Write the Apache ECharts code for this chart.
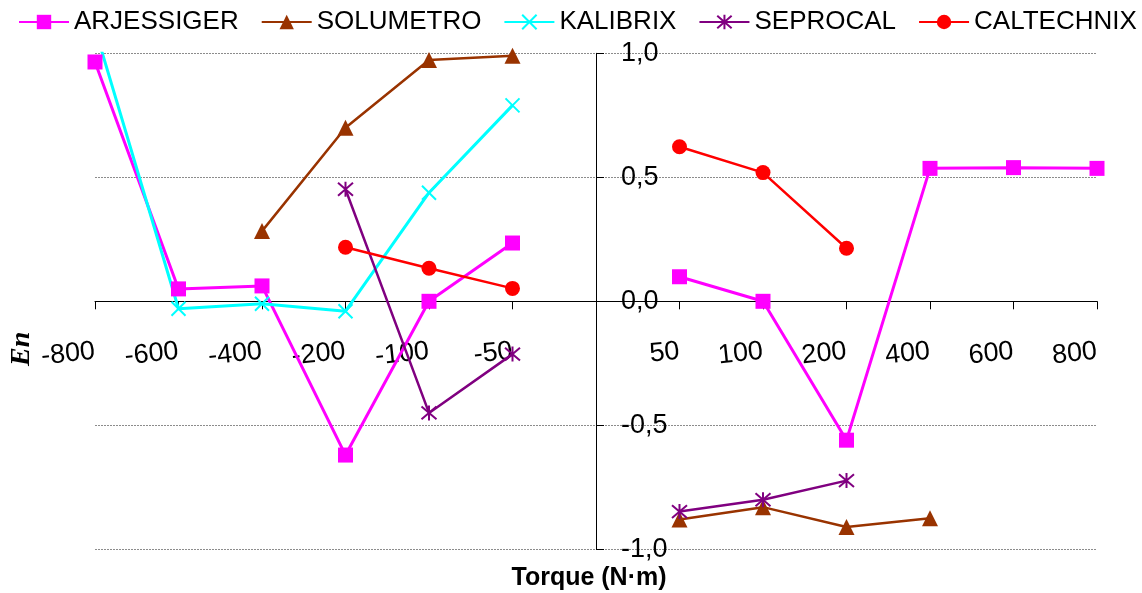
<!DOCTYPE html>
<html>
<head>
<meta charset="utf-8">
<script src="https://cdn.jsdelivr.net/npm/echarts@6/dist/echarts.min.js"></script>
<style>
html,body{margin:0;padding:0;background:#fff;}
#chart{width:1142px;height:593px;}
</style>
</head>
<body>
<div id="chart"></div>
<script>
// Categories (torque, N·m); the empty slot is where the En axis crosses
var categories = ['-800','-600','-400','-200','-100','-50','','50','100','200','400','600','800'];
var yTicks = [-1.0, -0.5, 0.0, 0.5, 1.0];

var arjessiger = [0.965, 0.05, 0.062, -0.62, 0.0, 0.235, null, 0.099, 0.0, -0.56, 0.536, 0.539, 0.536];
var solumetro  = [null, null, 0.283, 0.70, 0.973, 0.99, null, -0.88, -0.83, -0.91, -0.875, null, null];
var kalibrix   = [1.10, -0.03, -0.01, -0.04, 0.438, 0.79, null, null, null, null, null, null, null];
var seprocal   = [null, null, null, 0.452, -0.45, -0.213, null, -0.848, -0.80, -0.723, null, null, null];
var caltechnix = [null, null, null, 0.218, 0.133, 0.052, null, 0.623, 0.519, 0.214, null, null, null];

var FONT = '"Liberation Sans", Arial, sans-serif';
var chart = echarts.init(document.getElementById('chart'), null, {renderer: 'canvas'});

var GRID_TOP = 53.3, GRID_BOTTOM = 43.7, PLOT_H = 593 - GRID_TOP - GRID_BOTTOM;

function series(name, data, color, symbol, size, width, strokeSymbol) {
  return {
    name: name, type: 'line', data: data, symbol: symbol, symbolSize: size,
    showAllSymbol: true, connectNulls: false, clip: true, animation: false,
    lineStyle: {color: color, width: width},
    itemStyle: strokeSymbol ? {color: 'none', borderColor: color, borderWidth: 2} : {color: color},
    emphasis: {disabled: true}
  };
}

var option = {
  animation: false,
  backgroundColor: '#fff',
  textStyle: {fontFamily: FONT},
  legend: {
    top: 9, left: 18, width: 1124, padding: 0, itemGap: 22, itemWidth: 50, itemHeight: 18,
    textStyle: {fontFamily: FONT, fontSize: 26, color: '#000'},
    data: ['ARJESSIGER','SOLUMETRO','KALIBRIX','SEPROCAL','CALTECHNIX']
  },
  grid: {left: 95, right: 45, top: GRID_TOP, bottom: GRID_BOTTOM, containLabel: false, outerBoundsMode: 'none'},
  xAxis: {
    type: 'category', data: categories, boundaryGap: false,
    position: 'bottom', offset: -PLOT_H / 2,
    axisLine: {onZero: false, lineStyle: {color: '#000', width: 1}},
    axisTick: {show: true, length: 8, lineStyle: {color: '#000'}, interval: 0},
    axisLabel: {interval: 0, rotate: 6, margin: 50, fontSize: 27, color: '#000', fontFamily: FONT},
    splitLine: {show: false}
  },
  yAxis: {
    type: 'value', min: -1, max: 1, interval: 0.5, position: 'left', offset: -501,
    axisLine: {show: true, onZero: false, lineStyle: {color: '#000', width: 1}},
    axisTick: {show: true, inside: true, length: 8, lineStyle: {color: '#000'}},
    axisLabel: {inside: true, margin: 25, fontSize: 27, color: '#000', fontFamily: FONT,
      formatter: function (v) { return v.toFixed(1).replace('.', ','); }},
    splitLine: {show: true, lineStyle: {color: '#8c8c8c', type: [2, 1], width: 1}}
  },
  graphic: [
    {type: 'text', x: 589, y: 578,
      style: {text: 'Torque (N·m)', font: 'bold 25px ' + FONT, fill: '#000', align: 'center', verticalAlign: 'middle'}},
    {type: 'text', x: 8, y: 366, rotation: Math.PI / 2,
      style: {text: 'En', font: 'italic bold 28px "Liberation Serif", "Times New Roman", serif', fill: '#000', align: 'left', verticalAlign: 'top'}}
  ],
  series: [
    series('ARJESSIGER', arjessiger, '#FF00FF', 'rect', 15, 3, false),
    series('SOLUMETRO', solumetro, '#993300', 'triangle', 16, 2.5, false),
    series('KALIBRIX', kalibrix, '#00FFFF', 'path://M0,0L10,10M10,0L0,10', 14, 3, true),
    series('SEPROCAL', seprocal, '#800080', 'path://M5,0L5,10M0.7,0.7L9.3,9.3M9.3,0.7L0.7,9.3', 15, 2.5, true),
    series('CALTECHNIX', caltechnix, '#FF0000', 'circle', 15, 2.5, false)
  ]
};
chart.setOption(option);
</script>
</body>
</html>
